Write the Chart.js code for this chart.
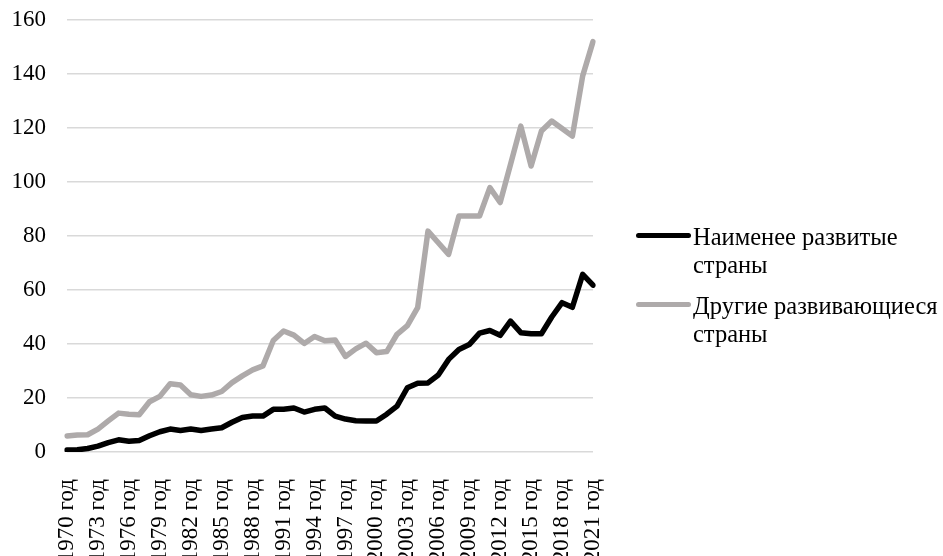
<!DOCTYPE html>
<html>
<head>
<meta charset="utf-8">
<script src="https://cdn.jsdelivr.net/npm/chart.js@4"></script>
<style>
  body { margin: 0; background: #fff; }
  #wrap { position: relative; width: 943px; height: 556px; }
  #legend { position: absolute; left: 0; top: 0; font-family: "Liberation Serif", "Times New Roman", serif; font-size: 24.5px; line-height: 28px; color: #000; }
  .item { position: absolute; left: 636px; }
  .swatch { position: absolute; left: 0; top: 10px; width: 55px; height: 5px; border-radius: 3px; }
  .txt { position: absolute; left: 57px; top: 0; white-space: nowrap; }
</style>
</head>
<body>
<div id="wrap">
  <canvas id="lineChart" width="943" height="556"></canvas>
  <div id="legend"></div>
</div>
<script>
var years = [];
for (var y = 1970; y <= 2021; y++) years.push(y);
var yearLabels = years.map(function (y) { return y + ' год'; });

var leastDeveloped = [0.7, 0.8, 1.3, 2.2, 3.5, 4.5, 4.0, 4.3, 6.0, 7.5,
  8.5, 8.0, 8.5, 8.0, 8.5, 9.0, 11.0, 12.8, 13.3, 13.3,
  15.8, 15.8, 16.3, 14.8, 15.8, 16.3, 13.3, 12.2, 11.6, 11.5,
  11.5, 14.0, 17.0, 23.8, 25.5, 25.6, 28.5, 34.3, 38.0, 39.8,
  44.0, 45.0, 43.2, 48.5, 44.2, 43.8, 43.8, 50.0, 55.3, 53.6,
  65.8, 61.8];

var otherDeveloping = [5.9, 6.3, 6.4, 8.5, 11.5, 14.4, 14.0, 13.8, 18.6, 20.6,
  25.3, 24.8, 21.2, 20.6, 21.1, 22.4, 25.7, 28.2, 30.4, 31.9,
  41.3, 44.8, 43.3, 40.2, 42.8, 41.2, 41.5, 35.4, 38.2, 40.3,
  36.8, 37.2, 43.6, 46.8, 53.5, 81.8, 77.5, 73.2, 87.4, 87.4,
  87.4, 97.9, 92.4, 106.5, 120.7, 105.9, 118.9, 122.6, 119.8, 117.0,
  139.3, 152.0];

var seriesNames = [['Наименее развитые', 'страны'], ['Другие развивающиеся', 'страны']];
var seriesColors = ['#000000', '#aeaaaa'];
var yTicks = [0, 20, 40, 60, 80, 100, 120, 140, 160];

var font = { family: '"Liberation Serif", "Times New Roman", serif', size: 23 };

new Chart(document.getElementById('lineChart'), {
  type: 'line',
  data: {
    labels: yearLabels,
    datasets: [
      {
        label: seriesNames[0].join(' '),
        data: leastDeveloped,
        borderColor: seriesColors[0],
        borderWidth: 5.5,
        fill: false
      },
      {
        label: seriesNames[1].join(' '),
        data: otherDeveloping,
        borderColor: seriesColors[1],
        borderWidth: 5.5,
        fill: false
      }
    ]
  },
  options: {
    responsive: false,
    animation: false,
    layout: { padding: { left: 10, right: 350, top: 20, bottom: 0 } },
    elements: {
      point: { radius: 0 },
      line: { tension: 0, borderCapStyle: 'round', borderJoinStyle: 'round' }
    },
    plugins: {
      legend: { display: false },
      tooltip: { enabled: false }
    },
    scales: {
      x: {
        offset: false,
        grid: { display: false, drawTicks: false },
        border: { display: false },
        afterFit: function (scale) {
          scale.height = 104;
          scale.paddingLeft = 0;
          scale.paddingRight = 0;
        },
        ticks: {
          autoSkip: false,
          minRotation: 90,
          maxRotation: 90,
          padding: 27,
          color: '#000',
          font: font,
          callback: function (value, index) {
            return index % 3 === 0 ? this.getLabelForValue(value) : '';
          }
        }
      },
      y: {
        min: yTicks[0],
        max: yTicks[yTicks.length - 1],
        grid: { color: '#d9d9d9', lineWidth: 1.5, drawTicks: false },
        border: { display: false },
        afterFit: function (scale) {
          scale.width = 57;
          scale.paddingTop = 0;
          scale.paddingBottom = 0;
        },
        ticks: {
          stepSize: yTicks[1] - yTicks[0],
          padding: 21,
          color: '#000',
          font: font
        }
      }
    }
  }
});

// легенда справа, с переносом подписей на две строки
var legend = document.getElementById('legend');
var tops = [223, 292];
seriesNames.forEach(function (name, i) {
  var item = document.createElement('div');
  item.className = 'item';
  item.style.top = tops[i] + 'px';
  item.innerHTML = '<span class="swatch" style="background:' + seriesColors[i] + '"></span>' +
    '<span class="txt">' + name.join('<br>') + '</span>';
  legend.appendChild(item);
});
</script>
</body>
</html>
